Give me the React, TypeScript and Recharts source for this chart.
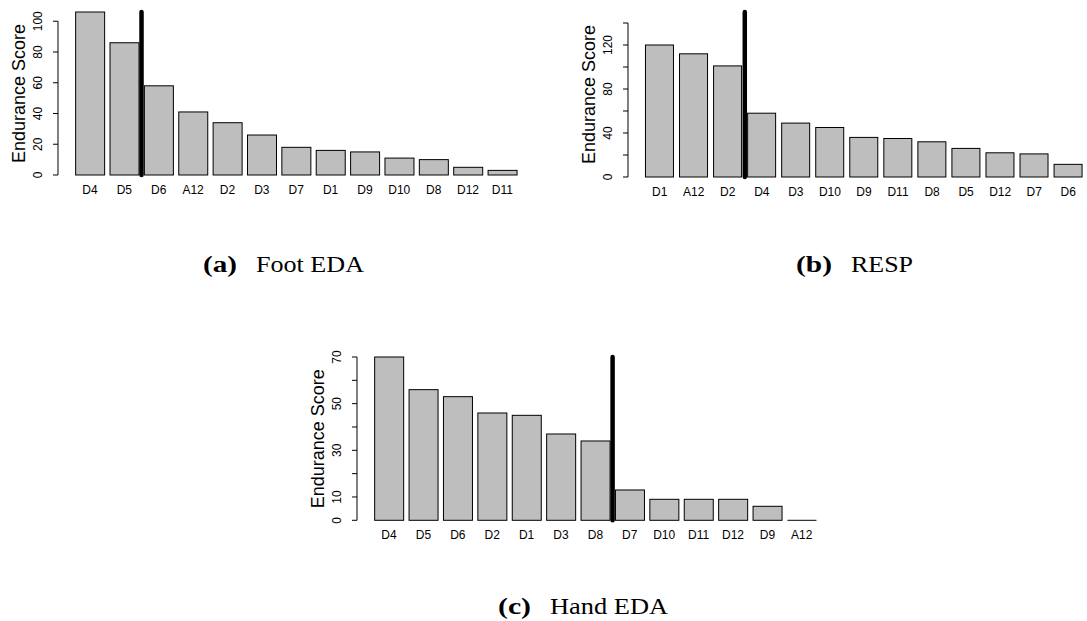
import React from 'react';
import { BarChart, Bar, XAxis, YAxis, ReferenceLine } from 'recharts';

// ---------- data ----------
const footCategories = ['D4', 'D5', 'D6', 'A12', 'D2', 'D3', 'D7', 'D1', 'D9', 'D10', 'D8', 'D12', 'D11'];
const footValues = [106, 86, 58, 41, 34, 26, 18, 16, 15, 11, 10, 5, 3];
const footTicks = [0, 20, 40, 60, 80, 100];
const footTickLabels = [0, 20, 40, 60, 80, 100];
const footCutoffIndex = 2; // line drawn before this category

const respCategories = ['D1', 'A12', 'D2', 'D4', 'D3', 'D10', 'D9', 'D11', 'D8', 'D5', 'D12', 'D7', 'D6'];
const respValues = [120, 112, 101, 58, 49, 45, 36, 35, 32, 26, 22, 21, 11.5];
const respTicks = [0, 20, 40, 60, 80, 100, 120, 140];
const respTickLabels = [0, 40, 80, 120];
const respCutoffIndex = 3;

const handCategories = ['D4', 'D5', 'D6', 'D2', 'D1', 'D3', 'D8', 'D7', 'D10', 'D11', 'D12', 'D9', 'A12'];
const handValues = [70, 56, 53, 46, 45, 37, 34, 13, 9, 9, 9, 6, 0];
const handTicks = [0, 10, 20, 30, 40, 50, 60, 70];
const handTickLabels = [0, 10, 30, 50, 70];
const handCutoffIndex = 7;

const yAxisTitle = 'Endurance Score';
const captionLetters = ['(a)', '(b)', '(c)'];
const captionTitles = ['Foot EDA', 'RESP', 'Hand EDA'];

// ---------- layout ----------
const Y_AXIS_W = 58;
const MARGIN_TOP = 12;
const X_AXIS_H = 25;
const SANS = '"Liberation Sans", Arial, Helvetica, sans-serif';
const SERIF = '"Liberation Serif", "Times New Roman", serif';

type PanelProps = {
  left: number;
  top: number;
  pitch: number;
  plotHeight: number;
  domainMax: number;
  categories: string[];
  values: number[];
  ticks: number[];
  tickLabels: number[];
  cutoffIndex: number;
};

const BarShape = (p: any) => {
  const { x, y, width, height } = p;
  if (!height) {
    return <line x1={x} x2={x + width} y1={y} y2={y} stroke="#000" strokeWidth={1} />;
  }
  return <rect x={x} y={y} width={width} height={height} fill="#BEBEBE" stroke="#000" strokeWidth={1} />;
};

function Panel(props: PanelProps) {
  const { left, top, pitch, plotHeight, domainMax, categories, values, ticks, tickLabels, cutoffIndex } = props;
  const n = categories.length;
  const pad = 0.43 * pitch;
  const plotWidth = pitch * n + 2 * pad;
  const width = Y_AXIS_W + plotWidth;
  const height = MARGIN_TOP + plotHeight + X_AXIS_H;
  const data = categories.map((c, i) => ({ name: c, value: values[i] }));
  const pxPerUnit = plotHeight / domainMax;
  const lastTick = ticks[ticks.length - 1];

  const YTick = (p: any) => {
    const v = p.payload.value;
    const axisX = p.x + 20;
    return (
      <g>
        {v === ticks[0] && (
          <line x1={axisX} x2={axisX} y1={p.y} y2={p.y - (lastTick - v) * pxPerUnit} stroke="#000" strokeWidth={1} />
        )}
        {tickLabels.includes(v) && (
          <text
            transform={`translate(${p.x},${p.y}) rotate(-90)`}
            textAnchor="middle"
            dy="0.35em"
            fontSize={12}
            fill="#000"
            fontFamily={SANS}
          >
            {v}
          </text>
        )}
      </g>
    );
  };

  const YLabel = (p: any) => {
    const vb = p.viewBox || { x: 0, y: MARGIN_TOP, width: Y_AXIS_W, height: plotHeight };
    const cx = vb.x + vb.width - 39;
    const cy = vb.y + vb.height / 2;
    return (
      <text
        transform={`translate(${cx},${cy}) rotate(-90)`}
        textAnchor="middle"
        dy="0.35em"
        fontSize={18}
        fill="#000"
        fontFamily={SANS}
      >
        {yAxisTitle}
      </text>
    );
  };

  return (
    <div style={{ position: 'absolute', left, top, width, height }}>
      <BarChart
        width={width}
        height={height}
        data={data}
        margin={{ top: MARGIN_TOP, right: 0, bottom: 0, left: 0 }}
        barCategoryGap="8.333%"
        style={{ fontFamily: SANS }}
      >
        <XAxis
          dataKey="name"
          interval={0}
          axisLine={false}
          tickLine={false}
          tickSize={0}
          tickMargin={10}
          height={X_AXIS_H}
          padding={{ left: pad, right: pad }}
          tick={{ fill: '#000', fontSize: 12, fontFamily: SANS }}
        />
        <YAxis
          type="number"
          domain={[0, domainMax]}
          ticks={ticks}
          interval={0}
          width={Y_AXIS_W}
          axisLine={false}
          stroke="#000"
          tickSize={5}
          tickMargin={15}
          tick={YTick}
          label={{ content: YLabel }}
        />
        <Bar dataKey="value" isAnimationActive={false} shape={BarShape} />
        <ReferenceLine
          x={categories[cutoffIndex]}
          position="start"
          stroke="#000"
          strokeWidth={4.5}
          strokeLinecap="round"
          ifOverflow="visible"
        />
      </BarChart>
    </div>
  );
}

function Caption({ x, y, letter, title, letterLen, titleLen, gap }: any) {
  return (
    <g fontFamily={SERIF} fontSize={23} fill="#000">
      <text x={x} y={y} fontWeight="bold" textLength={letterLen} lengthAdjust="spacingAndGlyphs">
        {letter}
      </text>
      <text x={x + letterLen + gap} y={y} textLength={titleLen} lengthAdjust="spacingAndGlyphs">
        {title}
      </text>
    </g>
  );
}

export default function App() {
  return (
    <div
      style={{
        position: 'absolute',
        left: 0,
        top: 0,
        width: 1087,
        height: 621,
        overflow: 'hidden',
        background: '#fff',
      }}
    >
      <Panel
        left={0}
        top={0}
        pitch={34.37}
        plotHeight={163}
        domainMax={106}
        categories={footCategories}
        values={footValues}
        ticks={footTicks}
        tickLabels={footTickLabels}
        cutoffIndex={footCutoffIndex}
      />
      <Panel
        left={570.3}
        top={0}
        pitch={34.05}
        plotHeight={165}
        domainMax={150}
        categories={respCategories}
        values={respValues}
        ticks={respTicks}
        tickLabels={respTickLabels}
        cutoffIndex={respCutoffIndex}
      />
      <Panel
        left={299.3}
        top={344.7}
        pitch={34.4}
        plotHeight={163.3}
        domainMax={70}
        categories={handCategories}
        values={handValues}
        ticks={handTicks}
        tickLabels={handTickLabels}
        cutoffIndex={handCutoffIndex}
      />
      <svg width={1087} height={621} style={{ position: 'absolute', left: 0, top: 0, pointerEvents: 'none' }}>
        <Caption x={203} y={272} letter={captionLetters[0]} title={captionTitles[0]} letterLen={34} titleLen={108} gap={19} />
        <Caption x={796} y={272} letter={captionLetters[1]} title={captionTitles[1]} letterLen={36} titleLen={62} gap={19} />
        <Caption x={498} y={614} letter={captionLetters[2]} title={captionTitles[2]} letterLen={33} titleLen={118} gap={19} />
      </svg>
    </div>
  );
}
